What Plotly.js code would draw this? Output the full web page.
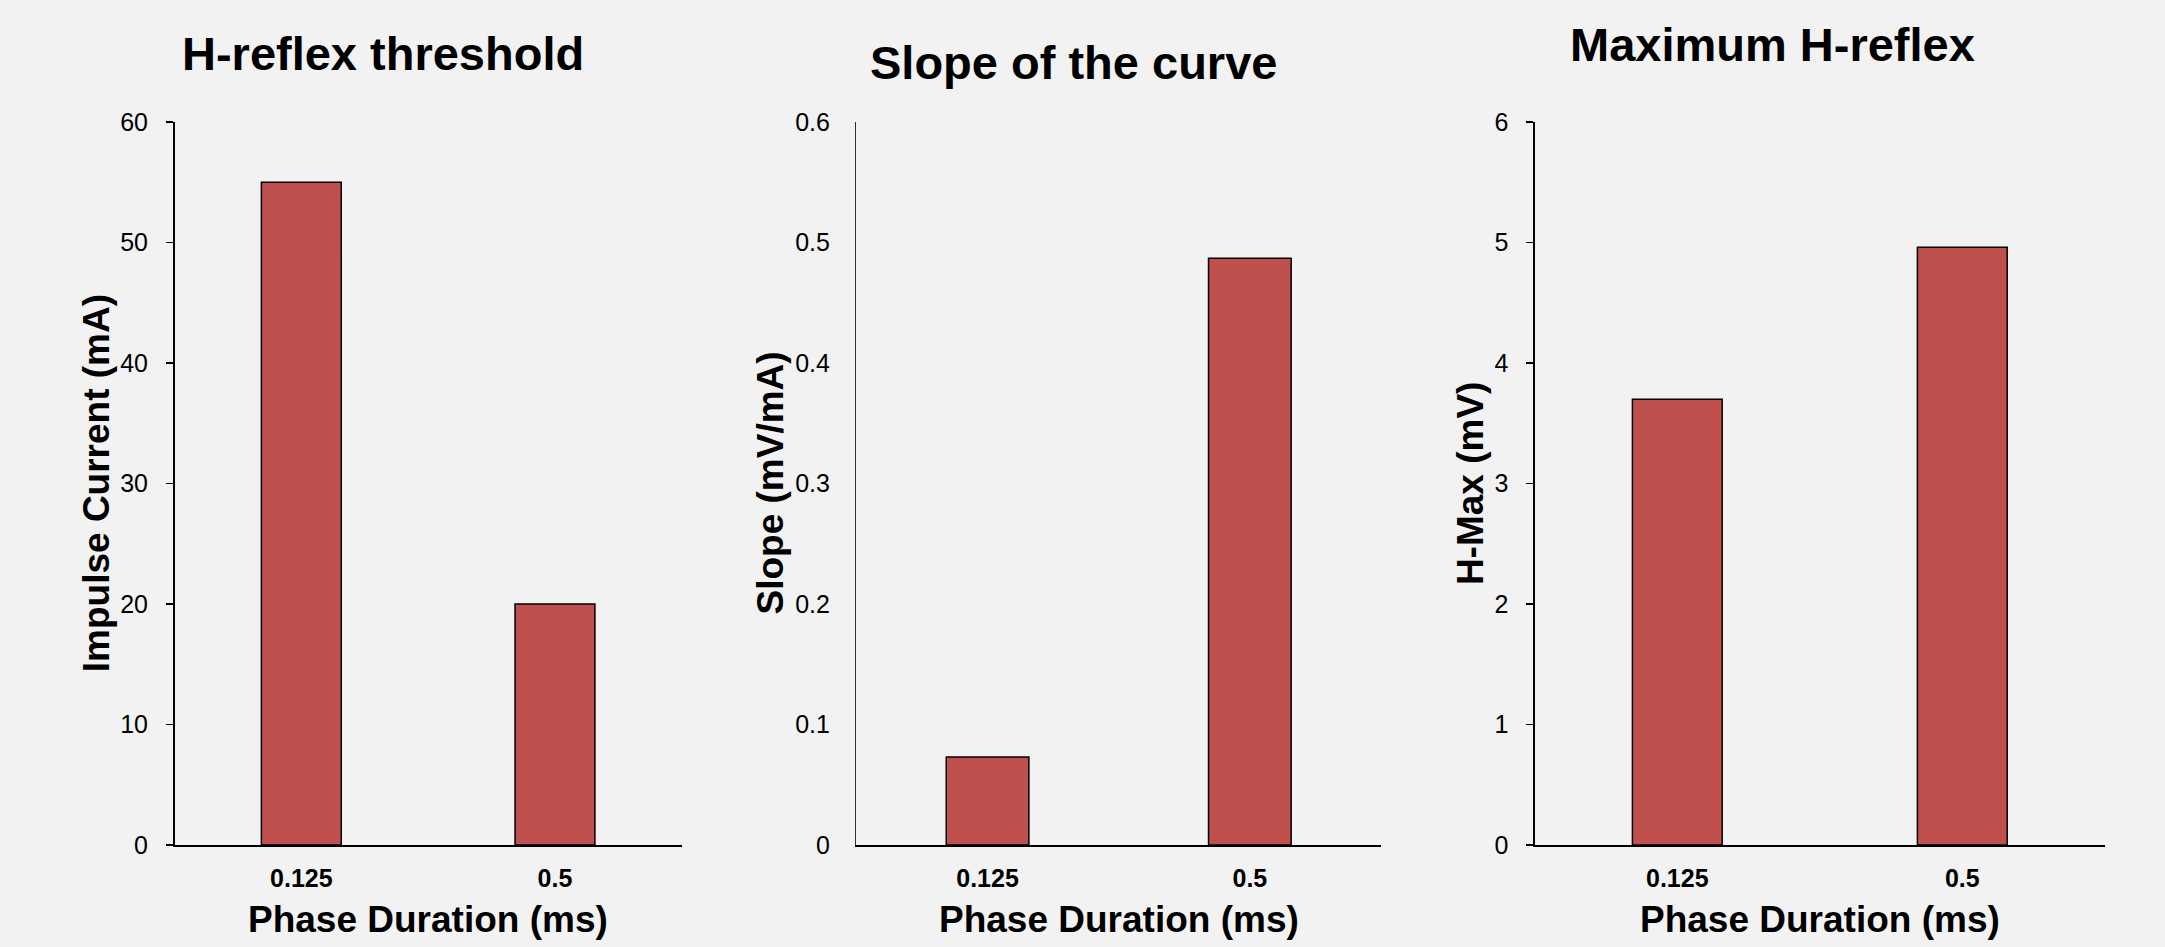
<!DOCTYPE html>
<html>
<head>
<meta charset="utf-8">
<script src="https://cdn.plot.ly/plotly-3.0.1.min.js"></script>
<style>
  html, body { margin: 0; padding: 0; background: #f2f2f2; }
  #chart { width: 2165px; height: 947px; }
</style>
</head>
<body>
<div id="chart"></div>
<script>
// ---- data ----
const categories = ['0.125', '0.5'];
const thresholdValues = [55, 20];      // Impulse Current (mA)
const slopeValues = [0.073, 0.487];    // Slope (mV/mA)
const hmaxValues = [3.70, 4.96];       // H-Max (mV)

const panelTitles = ['H-reflex threshold', 'Slope of the curve', 'Maximum H-reflex'];
const yTitles = ['Impulse Current (mA)', 'Slope (mV/mA)', 'H-Max (mV)'];
const xTitle = 'Phase Duration (ms)';

// ---- styling ----
const W = 2165, H = 947;
const FONT = 'Arial, "Liberation Sans", Helvetica, sans-serif';
const barColor = '#c0504d';
const bg = '#f2f2f2';

function px(x) { return x / W; }
function py(y) { return 1 - y / H; }

const yBottom = 845, yTop = 122;
const panels = [
  { x0: 174.5, x1: 681.8, values: thresholdValues, range: [0, 60], dtick: 10, ticks: 'outside', standoff: 13, titleX: 383, titleY: 53, yTitleX: 96.7 },
  { x0: 856.4, x1: 1381, values: slopeValues, range: [0, 0.6], dtick: 0.1, ticks: '', standoff: 20, titleX: 1073, titleY: 62.5, yTitleX: 770 },
  { x0: 1534.8, x1: 2104.8, values: hmaxValues, range: [0, 6], dtick: 1, ticks: 'outside', standoff: 13, titleX: 1772, titleY: 44.5, yTitleX: 1470.6 }
];

const traces = [];
const layout = {
  width: W, height: H,
  margin: { l: 0, r: 0, t: 0, b: 0, pad: 0 },
  paper_bgcolor: bg, plot_bgcolor: bg,
  showlegend: false,
  bargap: 0.685,
  font: { family: FONT, color: '#000' },
  annotations: []
};

panels.forEach((p, i) => {
  const n = i === 0 ? '' : String(i + 1);
  traces.push({
    type: 'bar',
    x: categories,
    y: p.values,
    xaxis: 'x' + n,
    yaxis: 'y' + n,
    marker: { color: barColor, line: { color: '#000', width: 1.5 } },
    hoverinfo: 'x+y'
  });
  layout['xaxis' + n] = {
    domain: [px(p.x0), px(p.x1)],
    anchor: 'y' + n,
    type: 'category',
    showline: true, linecolor: '#000', linewidth: 2,
    ticks: '', showgrid: false, zeroline: false,
    tickfont: { family: FONT, size: 25, weight: 'bold', color: '#000' },
    ticklabelstandoff: 10,
    fixedrange: true
  };
  layout['yaxis' + n] = {
    domain: [py(yBottom), py(yTop)],
    anchor: 'x' + n,
    range: p.range,
    dtick: p.dtick,
    tick0: 0,
    showline: true, linecolor: i === 1 ? '#333' : '#000', linewidth: 1.5,
    ticks: p.ticks, ticklen: 7, tickwidth: 1.5, tickcolor: '#000',
    showgrid: false, zeroline: false,
    tickfont: { family: FONT, size: 25, color: '#000' },
    ticklabelstandoff: p.standoff,
    fixedrange: true
  };
  // panel title
  layout.annotations.push({
    text: panelTitles[i], xref: 'paper', yref: 'paper',
    x: px(p.titleX), y: py(p.titleY), xanchor: 'center', yanchor: 'middle',
    showarrow: false, font: { family: FONT, size: 47, weight: 'bold', color: '#000' }
  });
  // x axis title
  layout.annotations.push({
    text: xTitle, xref: 'paper', yref: 'paper',
    x: px((p.x0 + p.x1) / 2), y: py(919), xanchor: 'center', yanchor: 'middle',
    showarrow: false, font: { family: FONT, size: 37, weight: 'bold', color: '#000' }
  });
  // y axis title
  layout.annotations.push({
    text: yTitles[i], xref: 'paper', yref: 'paper', textangle: -90,
    x: px(p.yTitleX), y: py((yTop + yBottom) / 2), xanchor: 'center', yanchor: 'middle',
    showarrow: false, font: { family: FONT, size: 37, weight: 'bold', color: '#000' }
  });
});

Plotly.newPlot('chart', traces, layout, { displayModeBar: false, staticPlot: true });
</script>
</body>
</html>
